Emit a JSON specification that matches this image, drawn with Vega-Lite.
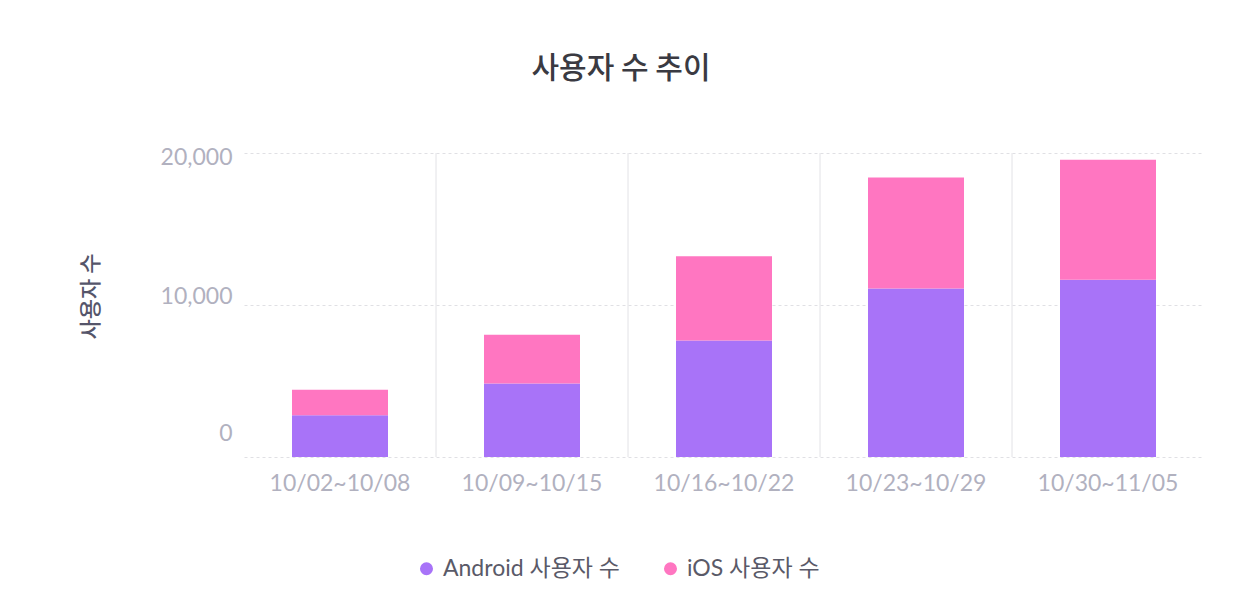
{
  "$schema": "https://vega.github.io/schema/vega-lite/v6.json",
  "autosize": "none",
  "width": 960,
  "height": 304,
  "padding": {"left": 244, "top": 153, "right": 32, "bottom": 153},
  "background": "white",
  "title": {
    "text": "사용자 수 추이",
    "font": "Noto Sans CJK KR",
    "fontSize": 30,
    "fontWeight": 500,
    "color": "#3a3a42",
    "anchor": "middle",
    "dx": -103,
    "offset": 62
  },
  "config": {
    "view": {"stroke": null},
    "font": "Lato, Noto Sans CJK KR"
  },
  "data": {
    "values": [
      {"week": "10/02~10/08", "series": "Android 사용자 수", "users": 2740},
      {"week": "10/02~10/08", "series": "iOS 사용자 수", "users": 1690},
      {"week": "10/09~10/15", "series": "Android 사용자 수", "users": 4840},
      {"week": "10/09~10/15", "series": "iOS 사용자 수", "users": 3210},
      {"week": "10/16~10/22", "series": "Android 사용자 수", "users": 7670},
      {"week": "10/16~10/22", "series": "iOS 사용자 수", "users": 5530},
      {"week": "10/23~10/29", "series": "Android 사용자 수", "users": 11090},
      {"week": "10/23~10/29", "series": "iOS 사용자 수", "users": 7290},
      {"week": "10/30~11/05", "series": "Android 사용자 수", "users": 11660},
      {"week": "10/30~11/05", "series": "iOS 사용자 수", "users": 7900}
    ]
  },
  "encoding": {
    "x": {
      "field": "week",
      "type": "nominal",
      "title": null,
      "scale": {
        "domain": ["10/02~10/08", "10/09~10/15", "10/16~10/22", "10/23~10/29", "10/30~11/05"],
        "paddingInner": 0,
        "paddingOuter": 0
      },
      "axis": {
        "domain": false,
        "ticks": false,
        "grid": false,
        "labelAngle": 0,
        "labelFont": "Lato",
        "labelFontSize": 23,
        "labelColor": "#b1b1bf",
        "labelPadding": 15
      }
    }
  },
  "layer": [
    {
      "transform": [
        {"filter": "datum.series == 'Android 사용자 수' && datum.week != '10/02~10/08'"}
      ],
      "mark": {"type": "rule", "color": "#e2e2e6", "strokeWidth": 1},
      "encoding": {
        "x": {"field": "week", "type": "nominal", "bandPosition": 0}
      }
    },
    {
      "mark": {"type": "bar", "width": {"band": 0.5}},
      "encoding": {
        "y": {
          "field": "users",
          "type": "quantitative",
          "aggregate": "sum",
          "stack": "zero",
          "title": "사용자 수",
          "scale": {"domain": [0, 20000], "nice": false},
          "axis": {
            "values": [0, 10000, 20000],
            "labelExpr": "format(datum.value, ',')",
            "domain": false,
            "ticks": false,
            "gridColor": "#e0e0e4",
            "gridDash": [3, 3],
            "labelFont": "Lato",
            "labelFontSize": 23,
            "labelColor": "#b1b1bf",
            "labelPadding": 12,
            "labelOffset": {
              "condition": [
                {"test": "datum.value == 0", "value": -24},
                {"test": "datum.value == 10000", "value": -9}
              ],
              "value": 4
            },
            "titleFont": "Noto Sans CJK KR",
            "titleFontSize": 22,
            "titleFontWeight": 500,
            "titleColor": "#55556a",
            "titleAngle": -90,
            "titleBaseline": "middle",
            "titleAlign": "center",
            "titleX": -154,
            "titleY": 143
          }
        },
        "color": {
          "field": "series",
          "type": "nominal",
          "scale": {
            "domain": ["Android 사용자 수", "iOS 사용자 수"],
            "range": ["#a873f8", "#ff76c1"]
          },
          "legend": {
            "title": null,
            "orient": "none",
            "direction": "horizontal",
            "legendX": 171,
            "legendY": 404,
            "symbolType": "circle",
            "symbolSize": 170,
            "symbolStrokeWidth": 0,
            "labelFont": "Lato, Noto Sans CJK KR",
            "labelFontSize": 23,
            "labelLimit": 400,
            "labelColor": "#5a5a68",
            "labelOffset": 5,
            "columnPadding": 39
          }
        },
        "order": {"field": "series", "sort": "ascending"}
      }
    }
  ]
}
